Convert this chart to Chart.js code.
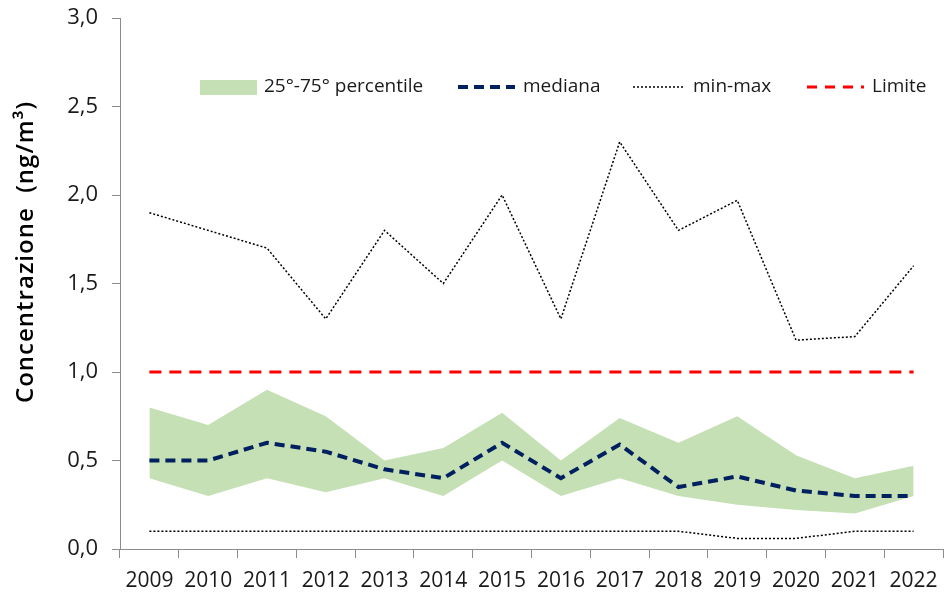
<!DOCTYPE html>
<html>
<head>
<meta charset="utf-8">
<script src="https://cdn.jsdelivr.net/npm/chart.js@4/dist/chart.umd.min.js"></script>
<style>
  html, body { margin: 0; padding: 0; background: #fff; }
  #wrap { width: 945px; height: 598px; }
</style>
</head>
<body>
<div id="wrap"><canvas id="myChart" width="945" height="598"></canvas></div>
<script>
// years on the x axis
const years = ['2009', '2010', '2011', '2012', '2013', '2014', '2015', '2016', '2017', '2018', '2019', '2020', '2021', '2022']

// values (ng/m3)
const p75 = [0.80, 0.70, 0.90, 0.75, 0.50, 0.57, 0.77, 0.50, 0.74, 0.60, 0.75, 0.53, 0.40, 0.47]
const p25 = [0.40, 0.30, 0.40, 0.32, 0.40, 0.30, 0.50, 0.30, 0.40, 0.30, 0.25, 0.22, 0.20, 0.30]
const mediana = [0.50, 0.50, 0.60, 0.55, 0.45, 0.40, 0.60, 0.40, 0.59, 0.35, 0.41, 0.33, 0.30, 0.30]
const maxVals = [1.90, 1.80, 1.70, 1.30, 1.80, 1.50, 2.00, 1.30, 2.30, 1.80, 1.97, 1.18, 1.20, 1.60]
const minVals = [0.10, 0.10, 0.10, 0.10, 0.10, 0.10, 0.10, 0.10, 0.10, 0.10, 0.06, 0.06, 0.10, 0.10]
const limite = [1, 1, 1, 1, 1, 1, 1, 1, 1, 1, 1, 1, 1, 1]

const yTicks = [0, 0.5, 1, 1.5, 2, 2.5, 3]
const yTitle = 'Concentrazione  (ng/m³)'

const FONT = '"Open Sans", Lato, sans-serif'
const GREEN = '#c5e0b4'
const NAVY = '#002060'
const AXIS = '#8c8c8c'

// legend drawn inside the plot area, like the original
const legendItems = [
  { text: '25°-75° percentile', type: 'box', color: GREEN, x: 200 },
  { text: 'mediana', type: 'line', color: NAVY, width: 4, dash: [10, 6], x: 458 },
  { text: 'min-max', type: 'line', color: '#000', width: 1.5, dash: [2, 2], x: 633, len: 52 },
  { text: 'Limite', type: 'line', color: '#ff0000', width: 3, dash: [10, 8], x: 807 },
]

const insideLegend = {
  id: 'insideLegend',
  afterDraw(chart) {
    const ctx = chart.ctx
    const y = 87
    ctx.save()
    ctx.font = '19px ' + FONT
    ctx.textBaseline = 'middle'
    legendItems.forEach((item) => {
      const len = item.len || 57
      if (item.type === 'box') {
        ctx.fillStyle = item.color
        ctx.fillRect(item.x, y - 7, len, 15)
      } else {
        ctx.beginPath()
        ctx.setLineDash(item.dash)
        ctx.lineWidth = item.width
        ctx.strokeStyle = item.color
        ctx.moveTo(item.x, y)
        ctx.lineTo(item.x + len, y)
        ctx.stroke()
        ctx.setLineDash([])
      }
      ctx.fillStyle = '#1a1a1a'
      ctx.fillText(item.text, item.x + len + (item.type === 'box' ? 7 : 8), y)
    })
    ctx.restore()
  },
}

// y axis title, a bit above the axis middle and slightly spaced out as in the original
const axisTitle = {
  id: 'axisTitle',
  afterDraw(chart) {
    const ctx = chart.ctx
    ctx.save()
    ctx.translate(26, 252)
    ctx.rotate(-Math.PI / 2)
    ctx.font = '600 24px ' + FONT
    if ('letterSpacing' in ctx) ctx.letterSpacing = '1px'
    ctx.textAlign = 'center'
    ctx.textBaseline = 'middle'
    ctx.fillStyle = '#000'
    ctx.fillText(yTitle, 0, 0)
    ctx.restore()
  },
}

const ctx = document.getElementById('myChart')

new Chart(ctx, {
  type: 'line',
  data: {
    labels: years,
    datasets: [
      {
        label: '75° percentile',
        data: p75,
        borderWidth: 0,
        pointRadius: 0,
        backgroundColor: GREEN,
        fill: '+1',
        order: 5,
      },
      {
        label: '25° percentile',
        data: p25,
        borderWidth: 0,
        pointRadius: 0,
        fill: false,
        order: 5,
      },
      {
        label: 'max',
        data: maxVals,
        borderColor: '#000',
        borderWidth: 1.5,
        borderDash: [2, 2],
        pointRadius: 0,
        fill: false,
        order: 3,
      },
      {
        label: 'min',
        data: minVals,
        borderColor: '#000',
        borderWidth: 1.5,
        borderDash: [2, 2],
        pointRadius: 0,
        fill: false,
        order: 3,
      },
      {
        label: 'Limite',
        data: limite,
        borderColor: '#ff0000',
        borderWidth: 3,
        borderDash: [12, 8],
        pointRadius: 0,
        fill: false,
        order: 2,
      },
      {
        label: 'mediana',
        data: mediana,
        borderColor: NAVY,
        borderWidth: 4,
        borderDash: [10, 6],
        pointRadius: 0,
        fill: false,
        order: 1,
      },
    ],
  },
  options: {
    responsive: false,
    animation: false,
    layout: { padding: { top: 18, right: 2, left: 0, bottom: 0 } },
    plugins: {
      legend: { display: false },
      tooltip: { enabled: false },
    },
    scales: {
      x: {
        offset: true,
        grid: {
          offset: true,
          drawOnChartArea: false,
          drawTicks: true,
          tickLength: 9,
          color: AXIS,
        },
        border: { color: AXIS, width: 1 },
        ticks: {
          color: '#1a1a1a',
          font: { family: FONT, size: 21 },
          padding: 10,
          maxRotation: 0,
          autoSkip: false,
        },
        afterFit: (scale) => {
          scale.height = 49
          scale.paddingLeft = 0
          scale.paddingRight = 0
        },
      },
      y: {
        min: 0,
        max: 3,
        afterBuildTicks: (scale) => { scale.ticks = yTicks.map((v) => ({ value: v })) },
        grid: {
          drawOnChartArea: false,
          drawTicks: true,
          tickLength: 8,
          color: AXIS,
        },
        border: { color: AXIS, width: 1 },
        ticks: {
          color: '#1a1a1a',
          font: { family: FONT, size: 22 },
          padding: 14,
          callback: (v) => v.toFixed(1).replace('.', ','),
        },
        afterFit: (scale) => {
          scale.width = 120
          scale.paddingTop = 0
          scale.paddingBottom = 0
        },
      },
    },
  },
  plugins: [insideLegend, axisTitle],
})
</script>
</body>
</html>
